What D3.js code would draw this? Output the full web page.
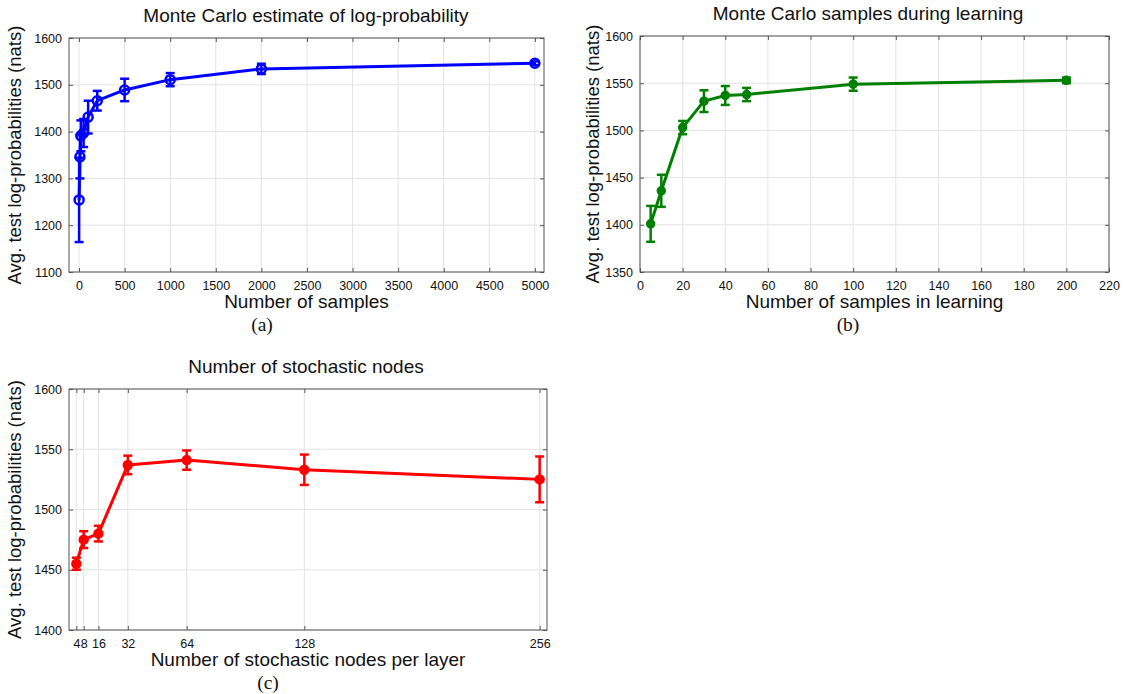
<html>

<head>
    <script src="https://d3js.org/d3.v7.min.js"></script>
    <style>
        body { margin: 0; background: #fff; }
        text { font-family: "Liberation Sans", Arial, sans-serif; fill: #111; }
        .cap { font-family: "Liberation Serif", "Times New Roman", serif; }
    </style>
</head>

<body>
    <svg id="svg" width="1123" height="694"></svg>

    <script>
        // DATA
        // (a) Monte Carlo estimate of log-probability
        const aSamples = [1, 10, 20, 50, 100, 200, 500, 1000, 2000, 5000]
        const aMean = [1254, 1346, 1391, 1397, 1431, 1466, 1489, 1511, 1534, 1546]
        const aErr = [90, 46, 33, 30, 35, 21, 24, 14, 11, 4]
        const aXTicks = [0, 500, 1000, 1500, 2000, 2500, 3000, 3500, 4000, 4500, 5000]
        const aYTicks = [1100, 1200, 1300, 1400, 1500, 1600]

        // (b) Monte Carlo samples during learning
        const bSamples = [5, 10, 20, 30, 40, 50, 100, 200]
        const bMean = [1401, 1436, 1503, 1531, 1537, 1538, 1549, 1553]
        const bErr = [19, 17, 7, 11.5, 10, 7, 7, 3]
        const bXTicks = [0, 20, 40, 60, 80, 100, 120, 140, 160, 180, 200, 220]
        const bYTicks = [1350, 1400, 1450, 1500, 1550, 1600]

        // (c) Number of stochastic nodes
        const cNodes = [4, 8, 16, 32, 64, 128, 256]
        const cMean = [1455, 1475, 1480, 1537, 1541, 1533, 1525]
        const cErr = [5, 7, 6.5, 7.7, 8, 12.6, 19]
        const cXTicks = [4, 8, 16, 32, 64, 128, 256]
        const cYTicks = [1400, 1450, 1500, 1550, 1600]

        const yLabel = "Avg. test log-probabilities (nats)"
        const fmt = d3.format("d")

        const svg = d3.select("#svg")

        // HELPERS
        function drawPanel(p) {
            const x = d3.scaleLinear().domain(p.xDomain).range([p.left, p.right])
            const y = d3.scaleLinear().domain(p.yDomain).range([p.bottom, p.top])
            const g = svg.append("g")

            // grid
            g.append("g").selectAll("line").data(p.xTicks).enter().append("line")
                .attr("x1", d => x(d)).attr("x2", d => x(d))
                .attr("y1", p.top).attr("y2", p.bottom)
                .attr("stroke", "#e3e3e3").attr("stroke-width", 1)
            g.append("g").selectAll("line").data(p.yTicks).enter().append("line")
                .attr("x1", p.left).attr("x2", p.right)
                .attr("y1", d => y(d)).attr("y2", d => y(d))
                .attr("stroke", "#e3e3e3").attr("stroke-width", 1)

            // axes, ticks inward on all four sides
            const tk = -4
            const bottom = g.append("g").attr("transform", `translate(0,${p.bottom})`)
                .call(d3.axisBottom(x).tickValues(p.xTicks).tickSizeInner(tk).tickSizeOuter(0).tickPadding(9).tickFormat(fmt))
            const top = g.append("g").attr("transform", `translate(0,${p.top})`)
                .call(d3.axisTop(x).tickValues(p.xTicks).tickSizeInner(tk).tickSizeOuter(0).tickFormat(""))
            const left = g.append("g").attr("transform", `translate(${p.left},0)`)
                .call(d3.axisLeft(y).tickValues(p.yTicks).tickSizeInner(tk).tickSizeOuter(0).tickPadding(7).tickFormat(fmt))
            const right = g.append("g").attr("transform", `translate(${p.right},0)`)
                .call(d3.axisRight(y).tickValues(p.yTicks).tickSizeInner(tk).tickSizeOuter(0).tickFormat(""))
            ;[bottom, top, left, right].forEach(a => {
                a.select(".domain").remove()
                a.selectAll("line").attr("stroke", "#555")
                a.selectAll("text").attr("font-size", 12.5).attr("fill", "#111")
                    .style("font-family", "'Liberation Sans', Arial, sans-serif")
            })
            g.append("rect")
                .attr("x", p.left).attr("y", p.top)
                .attr("width", p.right - p.left).attr("height", p.bottom - p.top)
                .attr("fill", "none").attr("stroke", "#555").attr("stroke-width", 1)

            // data
            const pts = p.xs.map((d, i) => ({ x: d, y: p.ys[i], e: p.err[i] }))
            const line = d3.line().x(d => x(d.x)).y(d => y(d.y))
            g.append("path").datum(pts)
                .attr("d", line).attr("fill", "none")
                .attr("stroke", p.color).attr("stroke-width", 3)
                .attr("stroke-linejoin", "round")

            const eb = g.append("g").attr("stroke", p.color).attr("stroke-width", 2.5)
            const cw = 4.5
            pts.forEach(d => {
                eb.append("line").attr("x1", x(d.x)).attr("x2", x(d.x))
                    .attr("y1", y(d.y - d.e)).attr("y2", y(d.y + d.e))
                eb.append("line").attr("x1", x(d.x) - cw).attr("x2", x(d.x) + cw)
                    .attr("y1", y(d.y - d.e)).attr("y2", y(d.y - d.e))
                eb.append("line").attr("x1", x(d.x) - cw).attr("x2", x(d.x) + cw)
                    .attr("y1", y(d.y + d.e)).attr("y2", y(d.y + d.e))
            })

            g.append("g").selectAll("circle").data(pts).enter().append("circle")
                .attr("cx", d => x(d.x)).attr("cy", d => y(d.y))
                .attr("r", p.r)
                .attr("fill", p.filled ? p.color : "none")
                .attr("stroke", p.color).attr("stroke-width", 2.5)

            // texts
            g.append("text").attr("x", p.titleX).attr("y", p.top - 16)
                .attr("text-anchor", "middle").attr("font-size", 19).text(p.title)
            g.append("text").attr("x", (p.left + p.right) / 2).attr("y", p.bottom + 36)
                .attr("text-anchor", "middle").attr("font-size", 19).text(p.xLabel)
            g.append("text").attr("class", "cap").attr("x", p.capX).attr("y", p.bottom + 59)
                .attr("text-anchor", "middle").attr("font-size", 19.5).text(p.caption)
            g.append("text")
                .attr("transform", `translate(${p.yLabelX},${(p.top + p.bottom) / 2}) rotate(-90)`)
                .attr("text-anchor", "middle").attr("font-size", 18.5).text(yLabel)
        }

        // BUILD IT
        drawPanel({
            left: 69, right: 544, top: 38, bottom: 272,
            xDomain: [-110, 5100], yDomain: [1100, 1600],
            xTicks: aXTicks, yTicks: aYTicks,
            xs: aSamples, ys: aMean, err: aErr,
            color: "#0000ff", r: 4.5, filled: false,
            title: "Monte Carlo estimate of log-probability",
            xLabel: "Number of samples", caption: "(a)",
            titleX: 306, capX: 262, yLabelX: 21
        })

        drawPanel({
            left: 640, right: 1109, top: 36, bottom: 272,
            xDomain: [0, 220], yDomain: [1350, 1600],
            xTicks: bXTicks, yTicks: bYTicks,
            xs: bSamples, ys: bMean, err: bErr,
            color: "#008000", r: 3.5, filled: true,
            title: "Monte Carlo samples during learning",
            xLabel: "Number of samples in learning", caption: "(b)",
            titleX: 868, capX: 848, yLabelX: 599
        })

        drawPanel({
            left: 69, right: 547, top: 389, bottom: 630,
            xDomain: [0, 260], yDomain: [1400, 1600],
            xTicks: cXTicks, yTicks: cYTicks,
            xs: cNodes, ys: cMean, err: cErr,
            color: "#ff0000", r: 4, filled: true,
            title: "Number of stochastic nodes",
            xLabel: "Number of stochastic nodes per layer", caption: "(c)",
            titleX: 306, capX: 268, yLabelX: 21
        })
    </script>
</body>

</html>
